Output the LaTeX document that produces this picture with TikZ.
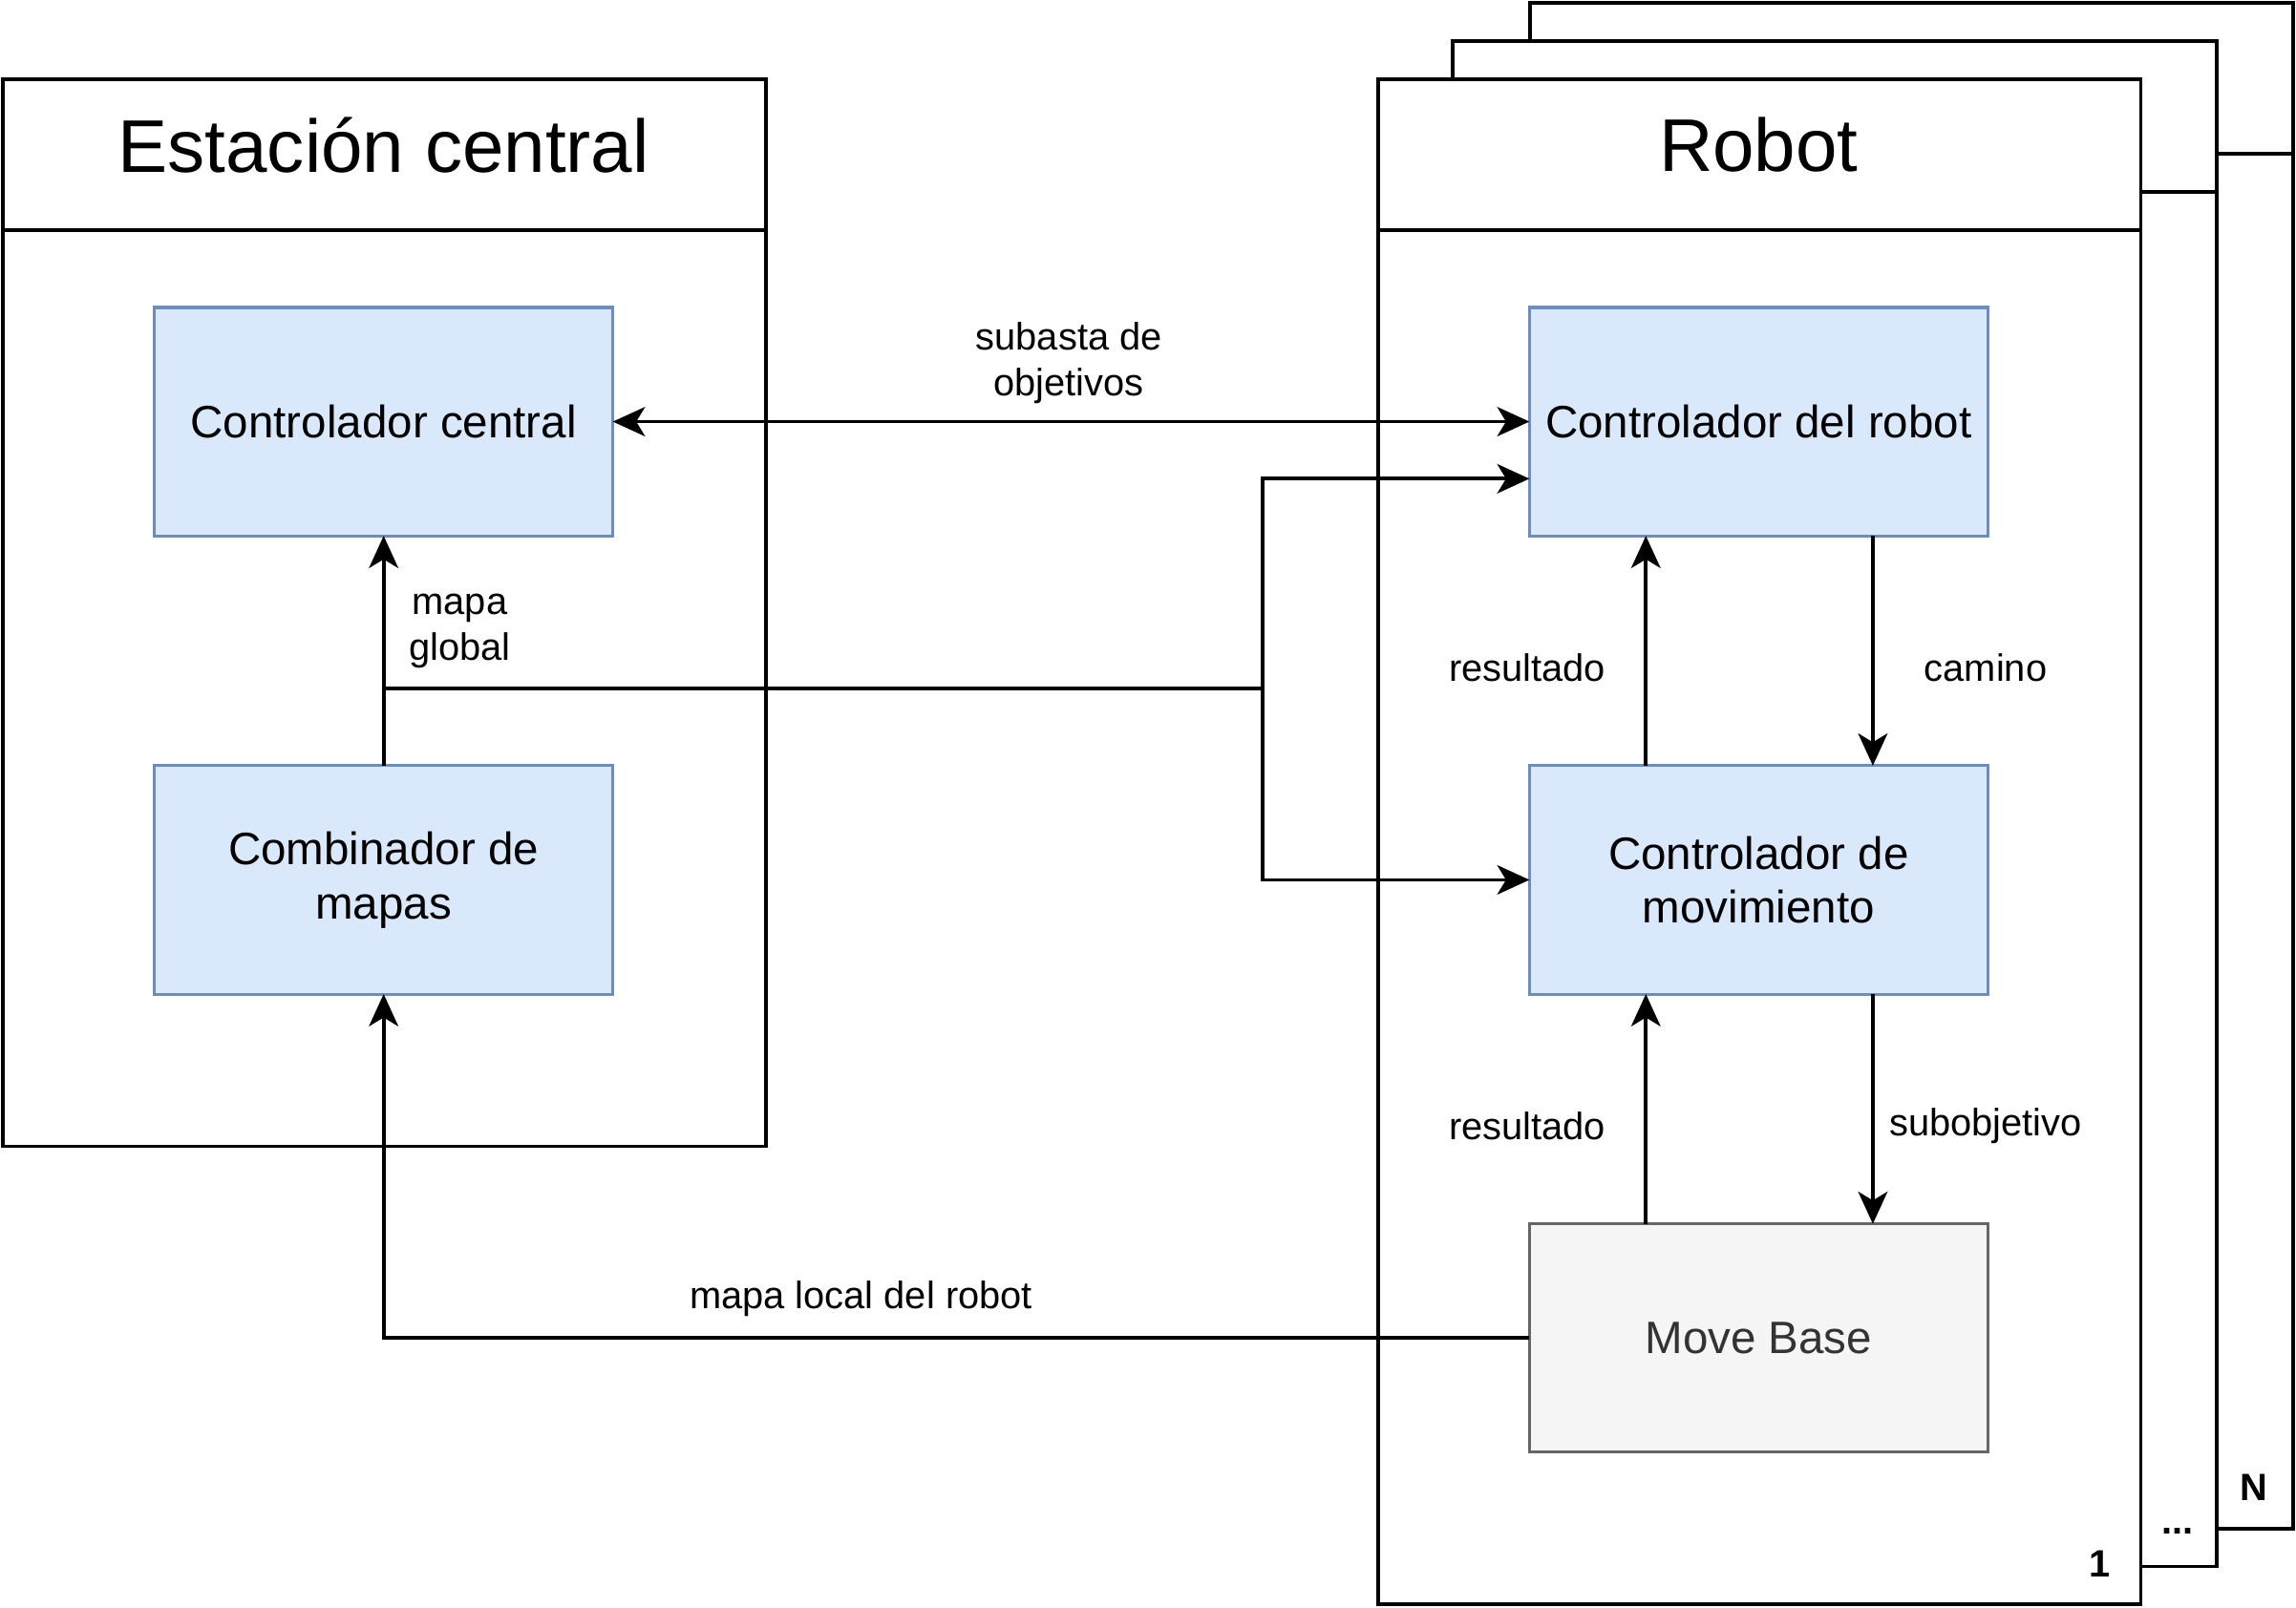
\documentclass[tikz,border=0pt]{standalone}
\usepackage{fontspec}
\setmainfont{Liberation Sans}
\usetikzlibrary{arrows.meta}
\definecolor{bluefill}{HTML}{DAE8FC}
\definecolor{blueline}{HTML}{6C8EBF}
\definecolor{grayfill}{HTML}{F5F5F5}
\definecolor{grayline}{HTML}{666666}
\definecolor{graytext}{HTML}{333333}
\begin{document}
\begin{tikzpicture}[x=1pt, y=-1pt,
        box/.style={draw=blueline, fill=bluefill, line width=2pt, minimum width=313pt, minimum height=156pt,
            inner sep=0pt, outer sep=0pt, align=center, font=\fontsize{31}{37}\selectfont},
        frame/.style={draw, fill=white, line width=2.5pt},
        title/.style={font=\fontsize{51}{60}\selectfont},
        lbl/.style={font=\fontsize{26}{31}\selectfont, align=center},
        num/.style={font=\fontsize{26}{31}\selectfont\bfseries},
        arr/.style={-{Stealth[length=22pt, width=20pt, inset=6pt]}, line width=2.5pt}]

        \useasboundingbox (0,0) rectangle (1568,1098);

        % estacion central
        \draw[frame] (2,54) rectangle (523,783);
        \draw[line width=2.5pt] (2,157) -- (523,157);
        \node[title] (est) at (262,99) {Estación central};

        % robots apilados
        \draw[frame] (1045,2) rectangle (1566,1044);
        \draw[line width=2.5pt] (1045,105) -- (1566,105);
        \draw[frame] (992,28) rectangle (1514,1070);
        \draw[line width=2.5pt] (992,131) -- (1514,131);
        \draw[frame] (941,54) rectangle (1462,1096);
        \draw[line width=2.5pt] (941,157) -- (1462,157);
        \node[title] (rob) at (1201,99) {Robot};
        \node[num] (n1) at (1434,1068) {1};
        \node[num] (ndots) at (1487,1046) {...};
        \node[num] (nN) at (1539,1016) {N};

        \node[box] (cc)  at (262,288)  {Controlador central};
        \node[box] (cm)  at (262,601)  {Combinador de\\mapas};
        \node[box] (cr)  at (1201,288) {Controlador del robot};
        \node[box] (cmv) at (1201,601) {Controlador de\\movimiento};
        \node[box, draw=grayline, fill=grayfill, text=graytext] (mb) at (1201,914) {Move Base};

        \coordinate (junc) at (862,470);

        \draw[arr, {Stealth[length=22pt, width=20pt, inset=6pt]}-{Stealth[length=22pt, width=20pt, inset=6pt]}] (cc.east) -- (cr.west);
        \draw[arr] (cm.north) -- (cc.south);
        \draw[line width=2.5pt] (cm.north |- junc) -- (junc);
        \draw[arr] (junc) |- ([yshift=-39pt]cr.west);
        \draw[arr] (junc) |- (cmv.west);
        \draw[arr] ([xshift=-77pt]cmv.north) -- ([xshift=-77pt]cr.south);
        \draw[arr] ([xshift=78pt]cr.south) -- ([xshift=78pt]cmv.north);
        \draw[arr] ([xshift=-77pt]mb.north) -- ([xshift=-77pt]cmv.south);
        \draw[arr] ([xshift=78pt]cmv.south) -- ([xshift=78pt]mb.north);
        \draw[arr] (mb.west) -| (cm.south);

        \node[lbl] (lsub) at (730,248) {subasta de\\objetivos};
        \node[lbl] (lmg)  at (314,431) {mapa\\global};
        \node[lbl] (lres1) at (1043,456) {resultado};
        \node[lbl] (lcam) at (1356,456) {camino};
        \node[lbl] (lres2) at (1043,769) {resultado};
        \node[lbl] (lsubo) at (1356,769) {subobjetivo};
        \node[lbl] (lloc) at (588,887) {mapa local del robot};

    \end{tikzpicture}
\end{document}
